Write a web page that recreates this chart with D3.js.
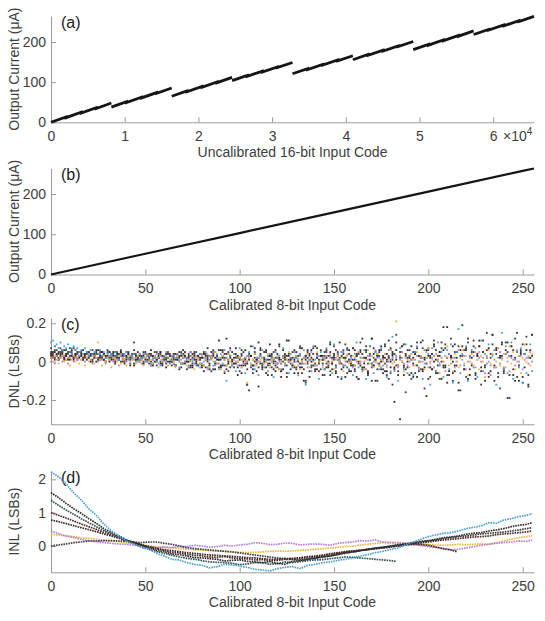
<!DOCTYPE html>
<html><head><meta charset="utf-8">
<script src="https://cdn.jsdelivr.net/npm/d3@7"></script>
<style>body{margin:0;background:#fff}svg{display:block}text{font-family:"Liberation Sans",Arial,Helvetica,sans-serif}</style>
</head><body><svg id="c" width="545" height="621"></svg>
<script>
// ---------- Panel (a): uncalibrated 16-bit transfer curve (sub-segments of 2048 codes) ----------
const subStartCode = d3.range(0, 65536, 2048);
const subStartCurrent = [0,11.5,23,34.5, 38,49.4,60.8,72.1, 65,76.25,87.5,98.75, 104,114.75,125.5,136.25, 121,131.75,142.5,153.25, 156,166.9,177.8,188.6, 181,192.25,203.5,214.75, 219,229.75,240.5,251.25];
const subEndCurrent   = [13.5,25,36.5,48, 51.4,62.8,74.1,85.5, 78.25,89.5,100.75,112, 116.75,127.5,138.25,149, 133.75,144.5,155.25,166, 168.9,179.8,190.6,201.5, 194.25,205.5,216.75,228, 231.75,242.5,253.25,264];
const xTicksA = [0,10000,20000,30000,40000,50000,60000];
const yTicksA = [0,100,200];

// ---------- Panel (b): calibrated 8-bit transfer curve ----------
const codesB = [0,50,100,150,200,250,256];
const currentB = [0,51.5,103,154.5,206,257.5,263.5];
const xTicks8 = [0,50,100,150,200,250];
const yTicksB = [0,100,200];

// ---------- Panel (c): DNL (LSBs) per code, 8 devices ----------
const dnl1 = [.1,.11,.08,.09,.07,.1,.06,.08,.07,.09,.05,.07,.08,.06,.07,.05,
.06,.04,.07,.05,.03,.06,.04,.05,.02,.04,.06,.03,.05,.02,.04,.03,
.04,.02,.05,.03,.01,.04,.02,.03,.05,.01,.03,.02,.04,0,.03,.01,
.02,.04,0,.03,.01,-.01,.02,.03,0,.02,-.02,.01,.03,0,.02,-.01,
.01,.03,-.02,.02,0,.04,-.01,.02,.01,-.03,.03,0,.02,-.02,.01,.04,
-.01,.02,.05,-.03,.01,.03,-.02,0,.04,-.04,.02,-.01,.06,-.1,.01,.03,
-.02,.04,-.05,.02,.07,-.03,.01,-.06,.03,.05,-.02,.08,-.04,.02,-.07,.03,
.06,-.03,.01,-.05,.04,.02,-.08,.05,-.01,.03,-.04,.07,-.02,.01,-.06,.04,
-.03,.05,.02,-.07,.03,-.01,.06,-.12,.04,.01,-.05,.08,-.02,.03,-.09,.05,
.02,-.04,.07,-.01,.03,-.06,.09,-.03,.04,.01,-.08,.05,-.02,.06,-.04,.02,
-.07,.04,.1,-.03,.02,-.05,.06,-.09,.03,.08,-.01,-.06,.05,.02,-.04,.07,
-.02,.04,-.08,.06,.01,.13,-.05,.03,-.1,.07,.02,-.04,.09,-.06,.03,.01,
-.07,.05,.08,-.03,.02,-.09,.06,-.01,.04,-.12,.07,.03,-.05,.1,-.02,.05,
-.08,.03,.06,-.04,.09,-.11,.02,.05,.17,-.06,.04,-.02,.08,-.1,.03,.06,
-.03,.07,-.08,.02,.11,-.05,.04,-.01,.09,-.07,.03,.06,-.12,.02,.05,.15,
-.04,.08,-.06,.03,.1,-.09,.01,.05,-.03,.07,-.11,.04,-.06,.02,.09,-.05];
const dnl2 = [.04,.02,.05,.03,.01,.04,.06,.02,.03,.05,.01,.04,.02,.03,.05,.02,
.03,.01,.04,.02,.05,.03,0,.04,.02,.06,.01,.03,.04,0,.02,.05,
.01,.03,-.01,.04,.02,.05,0,.03,.01,.04,-.02,.02,.06,.01,.03,0,
.02,-.01,.04,.01,.03,.06,-.02,.02,0,.03,.05,-.01,.02,.04,0,.03,
-.02,.04,.01,.02,-.04,.03,.06,-.01,.02,0,.05,-.03,.03,.01,-.02,.04,
.02,-.05,.03,.07,-.01,.02,-.04,.05,.01,.11,-.02,.03,-.06,.04,0,-.03,
.05,-.01,.03,-.07,.02,.04,-.02,.06,-.12,-.15,.03,-.04,.07,.01,-.13,.04,
-.02,.05,-.06,.03,.09,-.03,.01,-.05,.04,.02,-.08,.06,-.01,.03,.11,-.04,
.02,-.06,.05,.01,-.03,.07,-.1,.03,.02,-.05,.06,-.02,.08,-.04,.01,.03,
-.07,.05,.02,-.03,.09,-.01,.04,-.06,.03,.1,-.04,.02,-.08,.06,.01,-.05,
.07,-.02,.04,-.09,.05,.12,-.03,.02,-.06,.08,-.01,.04,-.1,.03,.06,-.04,
.02,.08,-.05,.11,-.03,.04,-.21,.06,-.02,-.3,.05,.09,-.04,.02,-.07,.08,
-.01,.05,-.08,.03,.1,-.04,.02,-.18,.07,-.03,.04,.09,-.06,.01,.05,-.09,
.06,-.02,.18,-.07,.03,.08,-.05,.02,-.11,.06,.19,-.04,.07,-.09,.03,-.02,
.08,-.06,.04,.11,-.03,.05,-.1,.02,.07,-.05,.14,-.02,.06,-.08,.03,.1,
-.04,.06,-.19,.03,.08,-.07,.02,.05,-.1,.04,.09,-.03,.06,-.12,.02,.14];
const dnl3 = [.07,.05,.08,.06,.04,.07,.05,.03,.06,.04,.07,.05,.03,.06,.04,.05,
.03,.06,.04,.02,.05,.03,.06,.02,.04,.01,.05,.03,.04,.02,.05,.01,
.04,.02,.03,.05,.01,.03,.04,0,.02,.05,.01,.03,-.01,.04,.02,.01,
.03,0,.02,.04,-.01,.03,.01,.02,-.02,.04,0,.03,.01,-.01,.02,.03,
0,.02,-.02,.03,.01,-.01,.04,0,.02,-.03,.03,-.01,.02,.05,-.02,.01,
.03,-.02,.04,0,-.04,.02,.06,-.01,.03,-.03,.01,.05,-.02,.02,-.05,.03,
.01,-.01,.02,0,-.02,.03,.01,-.01,0,.02,-.03,.01,.02,-.01,0,.03,
-.01,.02,0,-.02,.01,.03,-.01,0,.02,-.04,.01,0,.03,-.02,.01,-.01,
.02,0,-.03,.01,.04,-.01,.02,-.11,0,.03,-.02,.01,-.01,.02,0,-.04,
.01,.03,-.01,0,-.05,.02,.01,-.02,.04,0,-.01,.06,.02,-.03,.01,0,
-.02,.01,.03,-.01,0,-.04,.02,.05,-.01,.01,-.03,.02,0,.04,-.02,.01,
.03,-.01,0,.02,-.06,.01,.04,-.02];
const dnl4 = [.03,.05,.02,.04,.01,.03,.05,.02,.04,.01,.03,.06,.02,.04,.01,.03,
.05,.02,.04,.01,.03,0,.04,.02,.05,.01,.03,.02,.04,0,.03,.05,
.02,.04,0,.03,.01,.05,.02,-.01,.03,.04,.01,.02,-.02,.03,.05,.01,
.03,-.01,.02,.04,.01,-.02,.03,0,.05,.02,-.01,.03,.01,-.03,.02,.04,
0,.03,-.02,.01,.05,-.01,.02,.03,-.04,.02,.01,-.02,.04,0,.03,-.01,
.02,.05,-.03,.01,.03,-.05,.04,.02,-.01,.06,-.03,.02,.01,-.04,.05,.02,
-.02,.04,.07,-.03,.02,-.06,.05,.01,-.04,.03,.08,-.02,.04,-.05,.02,.06,
-.03,.01,.05,-.07,.03,.02,-.04,.06,-.01,.09,-.05,.02,.04,-.08,.03,.01,
.05,-.03,.02,-.06,.07,.01,-.04,.03,.06,-.08,.02,.04,-.02,.07,-.05,.03,
.01,-.04,.06,.03,-.07,.02,.08,-.03,.05,-.01,-.09,.04,.02,.07,-.05,.03,
-.02,.06,-.08,.04,.1,-.03,.02,.06,-.05,.03,-.1,.07,.01,-.04,.05,.08,
-.06,.02,.04,-.09,.07,.03,-.04,.1,-.02,.05,.08,-.07,.03,-.03,.06,.01,
-.08,.04,.07,-.05,.02,.11,-.03,.06,-.09,.03,-.04,.08,.01,-.06,.05,.1,
-.02,.07,-.11,.04,.02,-.06,.09,.05,-.15,.03,.08,-.04,.06,.12,-.07,.02,
.05,-.09,.03,.08,-.05,.11,-.02,.06,-.08,.04,.14,-.03,.07,-.06,.02,.09,
-.05,.04,.1,-.07,.03,.06,-.1,.15,-.02,.05,-.08,.04,.09,-.13,.06,.03];
const dnl5 = [.02,.04,.01,.03,.05,.02,.04,.01,.03,.02,.05,.03,.01,.04,.02,.03,
.04,.01,.03,.05,.02,.04,.01,.03,0,.04,.02,.05,.01,.03,.02,0,
.03,.05,.01,.02,.04,0,.03,.01,.05,.02,-.01,.03,.04,.01,.02,.03,
.01,.03,.05,0,.02,.04,-.01,.03,.01,.02,.05,-.02,.03,.01,.04,0,
.02,-.01,.04,.01,.03,-.03,.02,.05,0,.03,-.02,.04,.01,-.01,.03,.02,
-.03,.04,.01,.02,-.02,.05,.03,-.04,.02,.01,.06,-.02,.04,.12,-.01,.03,
0,.02,-.01,.03,.01,-.02,0,.02,-.01,.01,.03,-.02,0,.01,.1,-.01,
.02,0,-.03,.01,-.01,.04,0,-.02,.02,.01,-.01,-.04,.02,.11,0,.01,
-.02,.01,.03,0,-.01,-.03,.02,.01,-.01,.04,0,.01,-.04,.02,0,.03,
-.01,.02,-.03,0,.05,-.01,.02,-.05,.01,0,.03,-.02,.02,0,.06,-.02,
.01,-.04,.03,0,-.02,.04,-.01,.02,-.06,.01,.12,-.02,.01,.03,-.01,0,
.03,-.05,.01,.02,0,.05,-.03,.01,-.07,.03,0,-.02,.04,0,.02,-.06,
.02,.04,-.02,0,.03,-.05,.01,-.01,.03,.02,-.04,0,.06,-.02,.03,0,
.18,-.03,.02,-.05,.03,0,-.02,.05];
const dnl6 = [0,.02,-.01,.03,.01,.02,0,.03,.01,-.01,.02,.04,0,.02,.01,.03,
.01,.03,0,.02,.04,.01,-.01,.03,.02,0,.04,.01,.03,-.01,.02,.01,
.03,0,.02,.01,-.02,.03,.01,.04,0,.02,-.01,.03,.01,.02,0,.04,
-.01,.02,.04,0,.03,-.02,.01,.02,.04,-.01,.03,0,.02,.05,-.02,.01,
.03,-.01,.02,.04,-.03,.01,.03,0,.02,-.02,.05,.01,-.01,.03,.02,-.03,
.04,0,.02,-.04,.03,.01,.05,-.02,.02,-.01,.04,.03,-.05,.02,.01,.06,
-.01,.01,0,-.02,.02,.01,-.01,.02,0,.03,-.01,.01,-.02,0,.02,0,
.02,-.01,.01,.03,-.02,0,.01,-.03,.02,0,-.01,.03,-.02,.01,0,.02,
-.01,.02,0,-.02,.04,0,-.01,.02,-.03,.01,.05,0,.01,-.02,.03,.01,
-.02,.01,.03,-.01,.02,0,-.04,.02,.01,-.01,.05,-.02,0,.03,0,.01,
-.03,.02,0,.05,-.01,.02,0,-.04,.01,.03,-.02,0,.06,-.01,.02,-.03,
.01,.04,-.02,0,-.05,.02,0,.02,-.03,.01,.05,-.01,.02,-.02,0,.04,
-.02,.01,.03,-.04,0,.02,-.01,.05,-.03,0,.02,-.03,.04,0,-.01,.02,
0,-.05,.02,.04,-.01,.02,-.03,0,.06,-.02,.01,.03,-.04,0,.02,-.01,
.03,-.03,.01,.05,0,.02,-.06,.03,0,-.02,.04,.01,-.03,.07,-.01,.02,
-.03,.04,0,-.05,.02,.01,-.02,.06,0,.03,-.04,.01,.02,-.01,.05,0];
const dnl7 = [.02,0,.03,.01,-.01,.02,.03,0,.01,.02,-.02,.01,.03,0,.02,-.01,
.01,.03,-.02,.02,0,.01,.03,-.01,.02,.1,.01,-.02,.03,0,.02,.01,
-.03,.02,.01,0,.03,-.01,.02,.01,-.02,.03,0,.01,.02,-.01,.03,0,
.01,-.02,.02,.04,0,.01,-.01,.03,.02,-.03,.01,.02,0,.03,-.02,.01,
.02,0,-.03,.03,.01,-.01,.02,.04,-.02,.01,0,.03,-.04,.02,.01,-.01,
.03,-.02,.01,.04,-.03,.02,0,.05,-.01,.02,-.04,.03,.01,-.02,.04,0,
-.01,.01,.03,0,.02,-.03,.01,0,-.11,.02,-.01,.01,.04,-.02,0,.01,
.02,-.01,0,.04,-.03,.01,.02,-.01,.03,-.04,0,.02,-.01,.01,.05,0,
.01,-.02,.03,.01,-.04,0,.02,-.01,.04,-.03,.01,0,-.02,.05,0,.01,
-.03,.02,0,-.01,.04,.01,-.04,.01,.03,0,.02,-.05,.01,.04,-.01,0,
.03,-.02,.01,.05,0,.02,-.04,.01,.06,-.01,.03,-.03,0,.04,-.02,.01,
0,.04,-.03,.01,.06,-.01,0,.21,-.02,.03,0,-.05,.02,.01,-.03,.04,
.01,-.02,.05,0,.03,0,-.04,.02,.07,-.01,.01,-.03,.04,.01,-.06,.02,
0,.03,.08,-.02,.01,-.05,.04,0,-.03,.02,.06,-.01,.03,-.07,0,.04,
-.02,.05,.01,-.04,.03,0,-.08,.02,.06,-.01,.04,-.03,0,.07,-.02,.01,
.04,-.03,.02,.08,-.01,.05,-.04,0,.03,-.06,.02,.09,0,.03,-.02,.04];
const dnl8 = [.05,.03,.06,.04,.02,.05,.03,.06,.04,.02,.05,.03,.07,.04,.02,.05,
.03,.06,.02,.04,.05,.01,.04,.03,.06,.02,.04,.05,.01,.03,.06,.02,
.04,.01,.05,.03,.02,.06,.04,.01,.03,.05,.02,.04,.1,.03,.01,.04,
.02,.05,.01,.03,.04,0,.03,.05,.01,.02,.04,-.01,.03,.02,.05,0,
.03,.01,-.02,.04,.02,.05,-.01,.03,0,.04,-.03,.02,.05,-.01,.03,.01,
-.02,.04,.01,.03,-.04,.02,.05,-.01,.03,.01,-.03,.06,.02,-.02,.04,.07,
.01,-.03,.04,.02,-.05,.06,.01,-.02,-.12,.04,.03,-.06,.05,.01,-.03,.07,
-.04,.02,.06,-.01,.03,-.07,.05,.02,-.03,.08,-.05,.03,.01,-.06,.04,.02,
-.02,.06,-.04,.03,.08,-.06,.02,-.1,.05,.01,-.03,.07,-.05,.04,-.01,.06,
.03,-.07,.05,-.02,.1,-.04,.03,.06,-.08,.02,.05,-.03,.09,-.06,.04,-.01,
.07,-.05,.03,-.09,.06,.02,-.04,.08,-.07,.04,.12,-.02,.05,-.1,.03,.06,
-.04,.09,-.07,.03,.06,-.12,.04,.14,-.05,.02,.08,-.03,-.16,.06,.03,-.09,
.05,-.06,.1,.03,-.04,.07,-.14,.02,.06,-.08,.04,.11,-.05,.03,-.09,.07,
-.03,.09,-.07,.04,.12,-.1,.05,-.02,.08,-.15,.03,.06,-.08,.1,-.04,.05,
.11,-.07,.03,.08,-.12,.05,-.03,.15,-.06,.02,.09,-.1,.04,.07,-.14,.03,
-.06,.1,.05,-.19,.08,-.04,.12,-.08,.03,.06,-.11,.04,.13,-.07,.02,.14];
const yTicksC = [-0.2,0,0.2];

// ---------- Panel (d): INL (LSBs), read every 4 codes ----------
const inlCodes = d3.range(0,256,4).concat([255]);
const inlCodes3 = d3.range(0,181,4).concat([183]);
const inlCodes5 = d3.range(0,213,4).concat([215]);
const inl1 = [2.22,2.08,1.86,1.6,1.38,1.12,0.92,0.66,0.45,0.3, 0.15,0.06,-0.05,-0.1,-0.22,-0.3,-0.4,-0.42,-0.5,-0.55,
 -0.58,-0.66,-0.62,-0.55,-0.57,-0.6,-0.64,-0.7,-0.72,-0.75, -0.68,-0.64,-0.62,-0.68,-0.58,-0.55,-0.5,-0.48,-0.43,-0.4,
 -0.36,-0.3,-0.26,-0.2,-0.16,-0.1,-0.06,0.04,0.12,0.2, 0.28,0.33,0.38,0.4,0.45,0.52,0.56,0.6,0.7,0.68, 0.78,0.82,0.88,0.92,0.97];
const inl2 = [1.6,1.45,1.28,1.12,0.98,0.82,0.68,0.52,0.4,0.3, 0.18,0.1,0.03,-0.06,-0.13,-0.17,-0.24,-0.26,-0.3,-0.35,
 -0.36,-0.38,-0.4,-0.45,-0.43,-0.42,-0.46,-0.48,-0.5,-0.47, -0.52,-0.55,-0.46,-0.44,-0.4,-0.36,-0.32,-0.3,-0.25,-0.2,
 -0.18,-0.14,-0.1,-0.06,-0.04,0.0,0.04,0.06,0.1,0.14, 0.16,0.2,0.25,0.27,0.3,0.35,0.38,0.4,0.45,0.48, 0.52,0.58,0.62,0.65,0.7];
const inl3 = [1.37,1.22,1.08,0.95,0.82,0.7,0.58,0.46,0.36,0.26, 0.16,0.07,-0.02,-0.1,-0.17,-0.22,-0.28,-0.33,-0.37,-0.4,
 -0.44,-0.48,-0.49,-0.5,-0.52,-0.56,-0.54,-0.5,-0.5,-0.55, -0.53,-0.48,-0.5,-0.47,-0.44,-0.42,-0.41,-0.38,-0.36,-0.33,
 -0.34,-0.36,-0.38,-0.4,-0.42,-0.44,-0.46];
const inl4 = [1.0,0.92,0.84,0.75,0.66,0.58,0.5,0.41,0.33,0.25, 0.17,0.1,0.03,-0.03,-0.09,-0.13,-0.19,-0.21,-0.25,-0.28,
 -0.3,-0.33,-0.34,-0.32,-0.36,-0.38,-0.39,-0.42,-0.41,-0.44, -0.43,-0.4,-0.4,-0.38,-0.35,-0.33,-0.3,-0.26,-0.22,-0.18,
 -0.15,-0.13,-0.1,-0.08,-0.05,-0.02,0.0,0.04,0.06,0.09, 0.12,0.15,0.18,0.2,0.22,0.25,0.27,0.28,0.3,0.34, 0.36,0.38,0.4,0.42,0.45];
const inl5 = [0.78,0.73,0.67,0.61,0.55,0.49,0.43,0.36,0.3,0.23, 0.16,0.09,0.03,-0.02,-0.07,-0.11,-0.14,-0.17,-0.2,-0.22,
 -0.25,-0.27,-0.28,-0.3,-0.31,-0.33,-0.35,-0.36,-0.38,-0.4, -0.4,-0.38,-0.37,-0.35,-0.32,-0.3,-0.27,-0.23,-0.2,-0.17,
 -0.15,-0.13,-0.11,-0.08,-0.06,-0.03,0.0,0.03,0.05,0.04, 0.02,-0.03,-0.08,-0.12,-0.17];
const inl6 = [0.45,0.37,0.3,0.25,0.2,0.16,0.13,0.1,0.08,0.06, 0.05,0.02,0.0,-0.03,-0.05,-0.03,-0.05,-0.02,-0.02,0.02,
 0.0,-0.04,-0.02,0.02,0.0,0.03,0.05,0.1,0.08,0.04, 0.05,0.09,0.08,0.03,0.05,0.06,0.05,0.02,0.08,0.1,
 0.12,0.16,0.15,0.18,0.12,0.1,0.1,0.08,0.05,0.02, -0.02,-0.05,-0.08,-0.12,-0.1,-0.06,-0.02,0.02,0.05,0.08, 0.1,0.12,0.15,0.14,0.18];
const inl7 = [0.35,0.33,0.3,0.28,0.25,0.23,0.2,0.17,0.15,0.13, 0.1,0.07,0.03,0.0,-0.02,-0.04,-0.06,-0.08,-0.1,-0.11,
 -0.12,-0.14,-0.15,-0.16,-0.17,-0.19,-0.2,-0.19,-0.18,-0.16, -0.15,-0.16,-0.15,-0.13,-0.12,-0.1,-0.08,-0.06,-0.04,-0.02,
 0.0,0.03,0.05,0.08,0.1,0.1,0.08,0.09,0.08,0.06, 0.05,0.03,0.02,0.03,0.05,0.04,0.05,0.06,0.05,0.1, 0.15,0.2,0.25,0.28,0.3];
const inl8 = [0.0,0.03,0.06,0.1,0.12,0.15,0.15,0.16,0.16,0.15, 0.14,0.12,0.1,0.12,0.12,0.08,0.05,0.0,-0.05,-0.08,
 -0.1,-0.12,-0.14,-0.16,-0.18,-0.21,-0.24,-0.27,-0.3,-0.33, -0.36,-0.38,-0.4,-0.42,-0.4,-0.37,-0.34,-0.3,-0.26,-0.22,
 -0.18,-0.14,-0.1,-0.07,-0.04,-0.01,0.02,0.05,0.08,0.12, 0.15,0.18,0.22,0.25,0.28,0.3,0.33,0.36,0.38,0.4, 0.42,0.45,0.48,0.52,0.55];
const yTicksD = [0,1,2];

const seriesColors = ["#4aa0d6","#2a2a2a","#34504e","#4a2626","#3a2424","#b57fd8","#f0b43c","#3c3c3c"];

// ---------- drawing ----------
const svg = d3.select("#c");
const X0 = 51, X1 = 534;
const axisColor = "#9a9a9a", textColor = "#404040";
const fmtHyphen = d => d === 0 ? "0" : String(d);

function styleAxis(g){
  g.select(".domain").attr("stroke", axisColor).attr("stroke-width",1);
  g.selectAll(".tick line").attr("stroke", axisColor);
  g.selectAll(".tick text").attr("fill", textColor).style("font-size","14px").style("font-family",'"Liberation Sans",Arial,sans-serif');
}
function panel(xs, ys, xTicks, xFmt, yTicks, yFmt, xTitle, yTitle, letter){
  const yb = ys.range()[0], yt = ys.range()[1];
  const gx = svg.append("g").attr("transform",`translate(0,${yb})`)
    .call(d3.axisBottom(xs).tickValues(xTicks).tickFormat(xFmt).tickSize(-5).tickSizeOuter(0).tickPadding(8.5));
  styleAxis(gx);
  const gy = svg.append("g").attr("transform",`translate(${X0},0)`)
    .call(d3.axisLeft(ys).tickValues(yTicks).tickFormat(yFmt).tickSize(-5).tickSizeOuter(0).tickPadding(5));
  styleAxis(gy);
  svg.append("text").attr("x",(X0+X1)/2).attr("y",yb+35).attr("text-anchor","middle")
    .attr("fill",textColor).style("font-size","14px").text(xTitle);
  svg.append("text").attr("transform",`translate(19,${(yb+yt)/2}) rotate(-90)`).attr("text-anchor","middle")
    .attr("fill",textColor).style("font-size","14px").text(yTitle);
  svg.append("text").attr("x",61).attr("y",yt+12).attr("fill","#1a1a1a").style("font-size","16px").text(letter);
}

// Panel (a)
const xA = d3.scaleLinear([0,65536],[X0,X1]);
const yA = d3.scaleLinear([0,265],[122.3,16]);
panel(xA,yA,xTicksA,d=>d/1e4,yTicksA,fmtHyphen,"Uncalibrated 16-bit Input Code","Output Current (μA)","(a)");
const tx = svg.append("text").attr("x",503).attr("y",141).attr("fill",textColor).style("font-size","14px");
tx.append("tspan").text("×10");
tx.append("tspan").attr("dy",-6).style("font-size","10px").text("4");
const lineA = d3.line().x(d=>xA(d[0])).y(d=>yA(d[1]));
for (let seg=0; seg<8; seg++){
  const pts = [];
  for (let j=0;j<4;j++){
    const i = seg*4+j;
    pts.push([subStartCode[i], subStartCurrent[i]]);
    pts.push([subStartCode[i]+2047, subEndCurrent[i]]);
  }
  svg.append("path").attr("d",lineA(pts)).attr("fill","none").attr("stroke","#151515").attr("stroke-width",2.8);
}

// Panel (b)
const xB = d3.scaleLinear([0,256],[X0,X1]);
const yB = d3.scaleLinear([0,264],[274.5,168.3]);
panel(xB,yB,xTicks8,fmtHyphen,yTicksB,fmtHyphen,"Calibrated 8-bit Input Code","Output Current (μA)","(b)");
svg.append("path").attr("d",d3.line().x((d,i)=>xB(codesB[i])).y(d=>yB(d))(currentB))
  .attr("fill","none").attr("stroke","#151515").attr("stroke-width",2.2);

// Panel (c)
const yC = d3.scaleLinear([-0.327,0.226],[424.3,318.3]);
panel(xB,yC,xTicks8,fmtHyphen,yTicksC,fmtHyphen,"Calibrated 8-bit Input Code","DNL (LSBs)","(c)");
const dnlAll = [dnl1,dnl2,dnl3,dnl4,dnl5,dnl6,dnl7,dnl8];
const drawOrder = [1,7,3,4,2,5,0,6];
drawOrder.forEach(s=>{
  svg.append("g").selectAll("rect").data(dnlAll[s]).join("rect")
    .attr("x",(d,i)=>xB(i)-0.9).attr("y",d=>yC(d)-0.9).attr("width",1.8).attr("height",1.8)
    .attr("fill",seriesColors[s]);
});

// Panel (d)
const yD = d3.scaleLinear([-0.79,2.25],[572.3,471]);
panel(xB,yD,xTicks8,fmtHyphen,yTicksD,fmtHyphen,"Calibrated 8-bit Input Code","INL (LSBs)","(d)");
const inlAll = [[inlCodes,inl1],[inlCodes,inl2],[inlCodes3,inl3],[inlCodes,inl4],[inlCodes5,inl5],[inlCodes,inl6],[inlCodes,inl7],[inlCodes,inl8]];
const inlOrder = [6,5,7,4,3,2,1,0];
inlOrder.forEach(s=>{
  const [cs, vs] = inlAll[s];
  svg.append("path").attr("d",d3.line().x((d,i)=>xB(cs[i])).y(d=>yD(d))(vs))
    .attr("fill","none").attr("stroke",seriesColors[s]).attr("stroke-width",1.7)
    .attr("stroke-dasharray","1.6,0.9");
});
</script></body></html>
